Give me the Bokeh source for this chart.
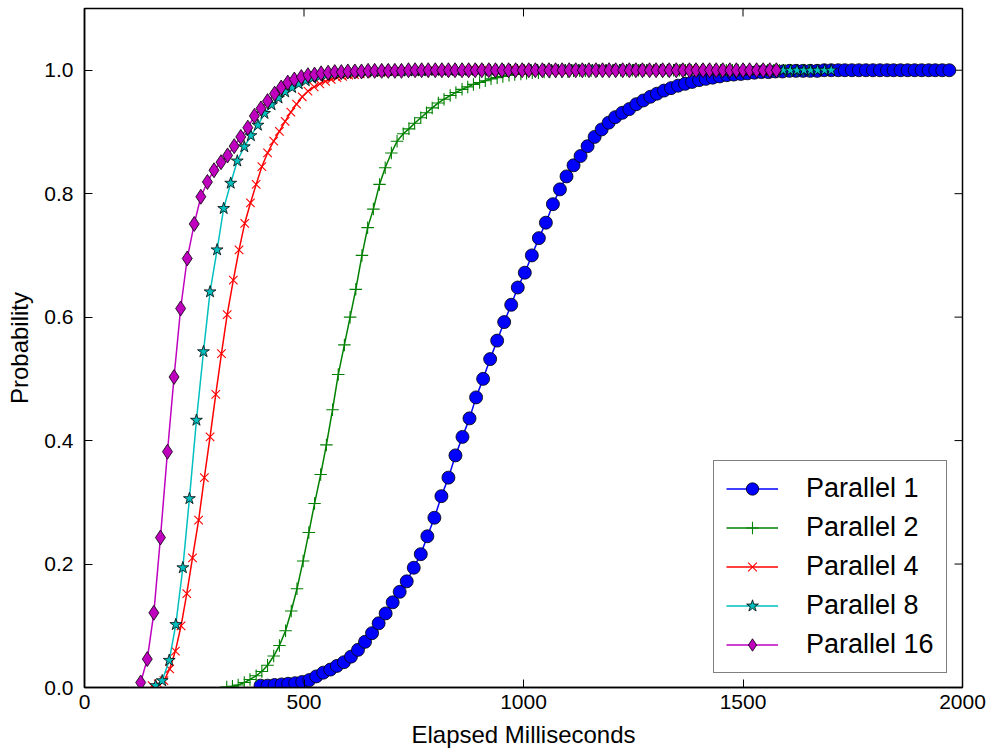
from bokeh.plotting import figure
from bokeh.models import Range1d, FixedTicker, Legend, LegendItem, NumeralTickFormatter
from bokeh.embed import file_html
from bokeh.resources import INLINE

# ---------------- data ----------------
p1_x = [401, 417, 433, 449, 464, 480, 496, 512, 528, 544,
        560, 575, 591, 607, 623, 639, 655, 670, 686, 702,
        718, 734, 750, 766, 781, 797, 813, 829, 845, 861,
        877, 892, 908, 924, 940, 956, 972, 987, 1003, 1019,
        1035, 1051, 1067, 1083, 1098, 1114, 1130, 1146, 1162, 1178,
        1194, 1209, 1225, 1241, 1257, 1273, 1289, 1304, 1320, 1336,
        1352, 1368, 1384, 1400, 1415, 1431, 1447, 1463, 1479, 1495,
        1510, 1526, 1542, 1558, 1574, 1590, 1606, 1621, 1637, 1653,
        1669, 1685, 1701, 1717, 1732, 1748, 1764, 1780, 1796, 1812,
        1828, 1843, 1859, 1875, 1891, 1907, 1923, 1938, 1954, 1970]
p1_y = [0.003, 0.003, 0.004, 0.005, 0.006, 0.007, 0.009, 0.012, 0.018, 0.024,
        0.029, 0.035, 0.041, 0.050, 0.061, 0.074, 0.088, 0.104, 0.120, 0.138,
        0.155, 0.172, 0.194, 0.216, 0.245, 0.275, 0.310, 0.340, 0.376, 0.406,
        0.436, 0.470, 0.500, 0.532, 0.562, 0.592, 0.620, 0.648, 0.672, 0.700,
        0.728, 0.753, 0.783, 0.807, 0.828, 0.846, 0.861, 0.877, 0.892, 0.904,
        0.915, 0.924, 0.931, 0.937, 0.945, 0.951, 0.957, 0.962, 0.967, 0.971,
        0.975, 0.978, 0.981, 0.984, 0.986, 0.988, 0.990, 0.992, 0.993, 0.994,
        0.995, 0.996, 0.997, 0.997, 0.998, 0.998, 0.999, 0.999, 0.999, 0.999,
        0.999, 1.0, 1.0, 1.0, 1.0, 1.0, 1.0, 1.0, 1.0, 1.0,
        1.0, 1.0, 1.0, 1.0, 1.0, 1.0, 1.0, 1.0, 1.0, 1.0]

p2_x = [324, 337, 350, 364, 377, 391, 404, 417, 431, 444,
        458, 471, 484, 498, 511, 524, 538, 551, 565, 578,
        592, 605, 618, 632, 645, 658, 672, 685, 699, 712,
        726, 739, 752, 766, 779, 792, 806, 819, 833, 846,
        860, 873, 886, 900, 913, 926, 940, 953, 967, 980,
        994, 1007, 1020, 1034, 1047, 1060, 1074, 1087, 1101, 1114,
        1128, 1141, 1154, 1168, 1181, 1194, 1208, 1221, 1235, 1248,
        1262, 1275, 1288, 1302, 1315, 1328, 1342, 1355, 1369, 1382,
        1396, 1409, 1422, 1436, 1449, 1462, 1476, 1489, 1503, 1516,
        1530, 1543, 1556, 1570, 1583, 1596, 1610, 1623, 1637, 1650]
p2_y = [0.001, 0.002, 0.004, 0.008, 0.013, 0.019, 0.026, 0.036, 0.051, 0.068,
        0.092, 0.124, 0.160, 0.205, 0.251, 0.298, 0.345, 0.393, 0.450, 0.507,
        0.555, 0.600, 0.645, 0.700, 0.745, 0.775, 0.815, 0.842, 0.866, 0.885,
        0.897, 0.905, 0.914, 0.923, 0.931, 0.939, 0.947, 0.953, 0.959, 0.964,
        0.969, 0.973, 0.977, 0.980, 0.983, 0.986, 0.988, 0.990, 0.992, 0.993,
        0.994, 0.995, 0.996, 0.996, 0.997, 0.997, 0.998, 0.998, 0.998, 0.999,
        0.999, 0.999, 0.999, 0.999, 0.999, 1.0, 1.0, 1.0, 1.0, 1.0,
        1.0, 1.0, 1.0, 1.0, 1.0, 1.0, 1.0, 1.0, 1.0, 1.0,
        1.0, 1.0, 1.0, 1.0, 1.0, 1.0, 1.0, 1.0, 1.0, 1.0,
        1.0, 1.0, 1.0, 1.0, 1.0, 1.0, 1.0, 1.0, 1.0, 1.0]

p4_x = [154, 168, 181, 194, 207, 220, 233, 246, 260, 273,
        286, 299, 312, 325, 339, 352, 365, 378, 391, 404,
        417, 431, 444, 457, 470, 483, 496, 509, 523, 536,
        549, 562, 575, 588, 602, 615, 628, 641, 654, 667,
        680, 694, 707, 720, 733, 746, 759, 772, 786, 799,
        812, 825, 838, 851, 865, 878, 891, 904, 917, 930,
        943, 957, 970, 983, 996, 1009, 1022, 1035, 1049, 1062,
        1075, 1088, 1101, 1114, 1128, 1141, 1154, 1167, 1180, 1193,
        1206, 1220, 1233, 1246, 1259, 1272, 1285, 1298, 1312, 1325,
        1338, 1351, 1364, 1377, 1391, 1404, 1417, 1430, 1443, 1456]
p4_y = [0.003, 0.006, 0.011, 0.030, 0.059, 0.100, 0.152, 0.210, 0.271, 0.340,
        0.406, 0.475, 0.541, 0.604, 0.660, 0.709, 0.752, 0.785, 0.815, 0.844,
        0.866, 0.885, 0.901, 0.917, 0.932, 0.945, 0.957, 0.966, 0.973, 0.978,
        0.982, 0.985, 0.988, 0.990, 0.992, 0.993, 0.994, 0.995, 0.996, 0.997,
        0.997, 0.998, 0.998, 0.998, 0.999, 0.999, 0.999, 0.999, 0.999, 0.999,
        1.0, 1.0, 1.0, 1.0, 1.0, 1.0, 1.0, 1.0, 1.0, 1.0,
        1.0, 1.0, 1.0, 1.0, 1.0, 1.0, 1.0, 1.0, 1.0, 1.0,
        1.0, 1.0, 1.0, 1.0, 1.0, 1.0, 1.0, 1.0, 1.0, 1.0,
        1.0, 1.0, 1.0, 1.0, 1.0, 1.0, 1.0, 1.0, 1.0, 1.0,
        1.0, 1.0, 1.0, 1.0, 1.0, 1.0, 1.0, 1.0, 1.0, 1.0]

p8_x = [162, 177, 193, 208, 224, 239, 255, 271, 286, 302,
        317, 333, 348, 364, 379, 395, 410, 426, 442, 457,
        473, 488, 504, 519, 535, 550, 566, 582, 597, 613,
        628, 644, 659, 675, 690, 706, 721, 737, 753, 768,
        784, 799, 815, 830, 846, 861, 877, 893, 908, 924,
        939, 955, 970, 986, 1001, 1017, 1032, 1048, 1064, 1079,
        1095, 1110, 1126, 1141, 1157, 1172, 1188, 1204, 1219, 1235,
        1250, 1266, 1281, 1297, 1312, 1328, 1343, 1359, 1375, 1390,
        1406, 1421, 1437, 1452, 1468, 1483, 1499, 1515, 1530, 1546,
        1561, 1577, 1592, 1608, 1623, 1639, 1654, 1670, 1686, 1701]
p8_y = [0.003, 0.011, 0.044, 0.102, 0.194, 0.306, 0.433, 0.544, 0.641, 0.709,
        0.776, 0.817, 0.853, 0.876, 0.894, 0.911, 0.930, 0.944, 0.955, 0.965,
        0.972, 0.978, 0.983, 0.987, 0.990, 0.992, 0.994, 0.995, 0.996, 0.997,
        0.997, 0.998, 0.998, 0.998, 0.999, 0.999, 0.999, 0.999, 0.999, 0.999,
        1.0, 1.0, 1.0, 1.0, 1.0, 1.0, 1.0, 1.0, 1.0, 1.0,
        1.0, 1.0, 1.0, 1.0, 1.0, 1.0, 1.0, 1.0, 1.0, 1.0,
        1.0, 1.0, 1.0, 1.0, 1.0, 1.0, 1.0, 1.0, 1.0, 1.0,
        1.0, 1.0, 1.0, 1.0, 1.0, 1.0, 1.0, 1.0, 1.0, 1.0,
        1.0, 1.0, 1.0, 1.0, 1.0, 1.0, 1.0, 1.0, 1.0, 1.0,
        1.0, 1.0, 1.0, 1.0, 1.0, 1.0, 1.0, 1.0, 1.0, 1.0]

p16_x = [128, 143, 158, 173, 189, 204, 219, 234, 250, 265,
         280, 295, 311, 326, 341, 356, 372, 387, 402, 417,
         433, 448, 463, 478, 494, 509, 524, 539, 555, 570,
         585, 600, 616, 631, 646, 661, 677, 692, 707, 722,
         738, 753, 768, 783, 799, 814, 829, 844, 860, 875,
         890, 905, 921, 936, 951, 966, 982, 997, 1012, 1027,
         1043, 1058, 1073, 1088, 1104, 1119, 1134, 1149, 1165, 1180,
         1195, 1210, 1226, 1241, 1256, 1271, 1287, 1302, 1317, 1332,
         1348, 1363, 1378, 1393, 1409, 1424, 1439, 1454, 1470, 1485,
         1500, 1515, 1531, 1546, 1561, 1576]
p16_y = [0.008, 0.046, 0.121, 0.243, 0.382, 0.503, 0.614, 0.695, 0.751, 0.795,
         0.819, 0.838, 0.851, 0.862, 0.877, 0.892, 0.907, 0.926, 0.938, 0.950,
         0.962, 0.972, 0.980, 0.985, 0.989, 0.992, 0.993, 0.995, 0.996, 0.997,
         0.997, 0.998, 0.998, 0.998, 0.999, 0.999, 0.999, 0.999, 0.999, 0.999,
         1.0, 1.0, 1.0, 1.0, 1.0, 1.0, 1.0, 1.0, 1.0, 1.0,
         1.0, 1.0, 1.0, 1.0, 1.0, 1.0, 1.0, 1.0, 1.0, 1.0,
         1.0, 1.0, 1.0, 1.0, 1.0, 1.0, 1.0, 1.0, 1.0, 1.0,
         1.0, 1.0, 1.0, 1.0, 1.0, 1.0, 1.0, 1.0, 1.0, 1.0,
         1.0, 1.0, 1.0, 1.0, 1.0, 1.0, 1.0, 1.0, 1.0, 1.0,
         1.0, 1.0, 1.0, 1.0, 1.0, 1.0]

series_labels = ["Parallel 1", "Parallel 2", "Parallel 4", "Parallel 8", "Parallel 16"]
x_ticks = [0, 500, 1000, 1500, 2000]
y_ticks = [0.0, 0.2, 0.4, 0.6, 0.8, 1.0]
X_MIN, X_MAX = 0, 2000
Y_MIN, Y_MAX = 0.0, 1.1

# ---------------- figure ----------------
FONT = "Liberation Sans"
W, H = 993, 751
BL, BR, BT, BB = 84, 31, 8, 64
p = figure(width=W, height=H, output_backend="svg", toolbar_location=None,
           x_range=Range1d(X_MIN, X_MAX), y_range=Range1d(Y_MIN, Y_MAX),
           min_border_left=BL, min_border_right=BR, min_border_top=BT, min_border_bottom=BB)
p.background_fill_color = "white"
p.border_fill_color = "white"
p.grid.visible = False
p.outline_line_color = "black"
p.outline_line_width = 1.5

TICK_LEN = 8

def style_axis(ax):
    ax.axis_line_color = "black"
    ax.axis_line_width = 1.5
    ax.major_tick_in = TICK_LEN
    ax.major_tick_out = 0
    ax.major_tick_line_color = "black"
    ax.major_tick_line_width = 1
    ax.minor_tick_line_color = None
    ax.major_label_text_font = FONT
    ax.major_label_text_font_size = "21px"
    ax.major_label_text_color = "black"
    ax.axis_label_text_font = FONT
    ax.axis_label_text_font_size = "24px"
    ax.axis_label_text_font_style = "normal"
    ax.axis_label_text_color = "black"

xa = p.xaxis[0]
ya = p.yaxis[0]
xa.ticker = FixedTicker(ticks=x_ticks)
ya.ticker = FixedTicker(ticks=y_ticks)
ya.formatter = NumeralTickFormatter(format="0.0")
style_axis(xa)
style_axis(ya)
xa.axis_label = "Elapsed Milliseconds"
ya.axis_label = "Probability"
xa.major_label_standoff = 7
ya.major_label_standoff = 11
xa.axis_label_standoff = 9
ya.axis_label_standoff = 8

# mirrored inward ticks on the top and right spines (length converted from px to data units)
frame_w = W - BL - BR
frame_h = H - BT - BB
dy = TICK_LEN / frame_h * (Y_MAX - Y_MIN)
dx = TICK_LEN / frame_w * (X_MAX - X_MIN)
p.segment(x0=x_ticks, x1=x_ticks, y0=[Y_MAX] * len(x_ticks), y1=[Y_MAX - dy] * len(x_ticks),
          line_color="black", line_width=1)
p.segment(x0=[X_MAX] * len(y_ticks), x1=[X_MAX - dx] * len(y_ticks), y0=y_ticks, y1=y_ticks,
          line_color="black", line_width=1)

# ---------------- series ----------------
specs = [
    (p1_x, p1_y, "#0000ff", "circle", 13, "black", "#0000ff"),
    (p2_x, p2_y, "#008000", "cross", 12.5, "#008000", None),
    (p4_x, p4_y, "#ff0000", "x", 12, "#ff0000", None),
    (p8_x, p8_y, "#00bfbf", "star", 12.5, "black", "#00bfbf"),
    (p16_x, p16_y, "#bf00bf", "diamond", 15, "black", "#bf00bf"),
]

items = []
for (xs, ys, col, mk, sz, edge, fill), lab in zip(specs, series_labels):
    lr = p.line(xs, ys, line_color=col, line_width=1.5)
    if fill is None:
        sr = p.scatter(xs, ys, marker=mk, size=sz, line_color=edge, line_width=1.1,
                       fill_color=None)
    else:
        sr = p.scatter(xs, ys, marker=mk, size=sz, line_color=edge, line_width=0.8,
                       fill_color=fill)
    items.append(LegendItem(label=lab, renderers=[lr, sr]))

legend = Legend(items=items, location=(629, 14))
legend.border_line_color = "black"
legend.border_line_width = 1.5
legend.background_fill_color = "white"
legend.background_fill_alpha = 1.0
legend.label_text_font = FONT
legend.label_text_font_size = "27px"
legend.label_text_color = "black"
legend.glyph_width = 52
legend.glyph_height = 31
legend.label_height = 31
legend.spacing = 8
legend.padding = 12
legend.margin = 0
legend.label_standoff = 28
p.add_layout(legend, "center")

open("out.html", "w").write(file_html(p, INLINE))
